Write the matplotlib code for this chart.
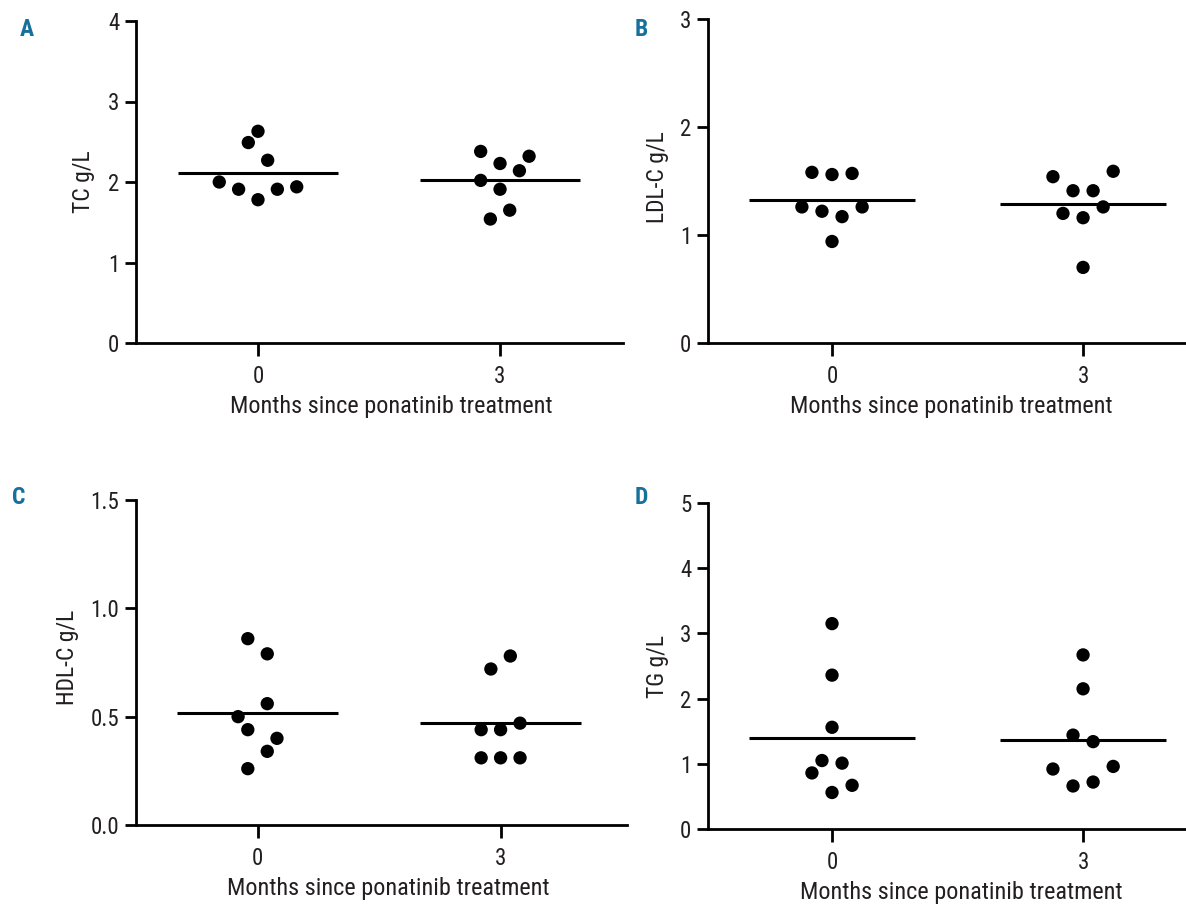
import matplotlib
matplotlib.use("Agg")
import matplotlib.pyplot as plt
import numpy as np
from matplotlib import font_manager


def pick_font(prefs, weight):
    for name in prefs:
        for f in font_manager.fontManager.ttflist:
            if f.name == name and f.weight == weight and f.style == "normal":
                return name
    return "DejaVu Sans"


# the original uses a Helvetica-condensed look
TEXT_FONT = pick_font(["Roboto Condensed", "Liberation Sans Narrow", "Archivo Narrow", "PT Sans Narrow", "Asap Condensed"], 400)
LETTER_FONT = pick_font(["Roboto Condensed", "Liberation Sans Narrow", "PT Sans Narrow", "Asap Condensed", "Barlow Condensed"], 700)
plt.rcParams["font.family"] = [TEXT_FONT, "DejaVu Sans"]

LABEL_COLOR = "#17709c"
TEXT_COLOR = "#231f20"
XTICK_LABELS = ["0", "3"]
XLABEL = "Months since ponatinib treatment"

# values (g/L), month 0 then month 3
tc_m0 = [2.63, 2.49, 2.27, 2.00, 1.91, 1.78, 1.91, 1.94]
tc_m3 = [2.38, 2.23, 2.32, 2.14, 2.02, 1.91, 1.65, 1.54]
ldl_m0 = [1.58, 1.56, 1.57, 1.26, 1.22, 1.17, 1.26, 0.94]
ldl_m3 = [1.54, 1.59, 1.41, 1.41, 1.26, 1.20, 1.16, 0.70]
hdl_m0 = [0.86, 0.79, 0.56, 0.50, 0.44, 0.40, 0.34, 0.26]
hdl_m3 = [0.78, 0.72, 0.47, 0.44, 0.44, 0.31, 0.31, 0.31]
tg_m0 = [3.15, 2.36, 1.56, 1.05, 1.01, 0.86, 0.67, 0.56]
tg_m3 = [2.67, 2.15, 1.44, 1.34, 0.92, 0.96, 0.66, 0.72]

# horizontal slot of each dot in the scatter (as drawn by the original software)
tc_slot0 = [0, -1, 1, -4, -2, 0, 2, 4]
tc_slot3 = [-2, 0, 3, 2, -2, 0, 1, -1]
ldl_slot0 = [-2, 0, 2, -3, -1, 1, 3, 0]
ldl_slot3 = [-3, 3, -1, 1, 2, -2, 0, 0]
hdl_slot0 = [-1, 1, 1, -2, -1, 2, 1, -1]
hdl_slot3 = [1, -1, 2, -2, 0, -2, 0, 2]
tg_slot0 = [0, 0, 0, -1, 1, -2, 2, 0]
tg_slot3 = [0, 0, -1, 1, -3, 3, -1, 1]

W, H = 1186, 906
SLOT = 0.04


def panel(rect_px, xlim, ylim, yticks, ytick_fmt, ylabel, letter, letter_xy,
          groups, slots, xlabel_x, ylabel_xy):
    left, top, right, bottom = rect_px
    ax = plt.gcf().add_axes([left / W, 1 - bottom / H, (right - left) / W, (bottom - top) / H])
    for i, (vals, sl) in enumerate(zip(groups, slots)):
        xs = i + SLOT * np.array(sl)
        ax.scatter(xs, vals, s=92, color="black", edgecolors="none", zorder=3, clip_on=False)
        m = np.mean(vals)
        ax.plot([i - 0.33, i + 0.33], [m, m], color="black", lw=2.2, solid_capstyle="butt", zorder=2)

    ax.set_xlim(*xlim)
    ax.set_ylim(*ylim)
    ax.set_xticks([0, 1])
    ax.set_xticklabels(XTICK_LABELS)
    ax.set_yticks(yticks)
    ax.set_yticklabels([ytick_fmt.format(t) for t in yticks])
    for s in ["top", "right"]:
        ax.spines[s].set_visible(False)
    for s in ["left", "bottom"]:
        ax.spines[s].set_linewidth(2.0)
    ax.tick_params(axis="x", length=9, width=2.0, pad=7, labelsize=16.5, colors="black", labelcolor=TEXT_COLOR)
    ax.tick_params(axis="y", length=8, width=2.0, pad=4, labelsize=16.5, colors="black", labelcolor=TEXT_COLOR)

    ax.set_xlabel(XLABEL, fontsize=17.5, color=TEXT_COLOR)
    ax.xaxis.set_label_coords(xlabel_x, -0.16)
    ax.set_ylabel(ylabel, fontsize=17, color=TEXT_COLOR)
    ax.yaxis.label.set_verticalalignment("center")
    ax.yaxis.set_label_coords(*ylabel_xy)

    plt.gcf().text(letter_xy[0] / W, 1 - letter_xy[1] / H, letter, color=LABEL_COLOR,
                   fontsize=17, fontweight="bold", family=[LETTER_FONT, "DejaVu Sans"],
                   ha="left", va="top")
    return ax


fig = plt.figure(figsize=(W / 100, H / 100), dpi=100)

panel((136, 21, 623, 343), (-0.504, 1.508), (0, 4), [0, 1, 2, 3, 4], "{:g}",
      "TC g/L", "A", (20, 18), [tc_m0, tc_m3], [tc_slot0, tc_slot3], 0.524, (-0.107, 0.5))
panel((708, 19, 1186, 343), (-0.494, 1.41), (0, 3), [0, 1, 2, 3], "{:g}",
      "LDL-C g/L", "B", (635, 18), [ldl_m0, ldl_m3], [ldl_slot0, ldl_slot3], 0.508, (-0.105, 0.512))
panel((136, 500, 627, 825), (-0.50, 1.52), (0, 1.5), [0, 0.5, 1.0, 1.5], "{:.1f}",
      "HDL-C g/L", "C", (12, 486), [hdl_m0, hdl_m3], [hdl_slot0, hdl_slot3], 0.513, (-0.139, 0.517))
panel((708, 503, 1186, 829), (-0.494, 1.41), (0, 5), [0, 1, 2, 3, 4, 5], "{:g}",
      "TG g/L", "D", (635, 486), [tg_m0, tg_m3], [tg_slot0, tg_slot3], 0.529, (-0.105, 0.497))

fig.savefig("out.png", dpi=100)
